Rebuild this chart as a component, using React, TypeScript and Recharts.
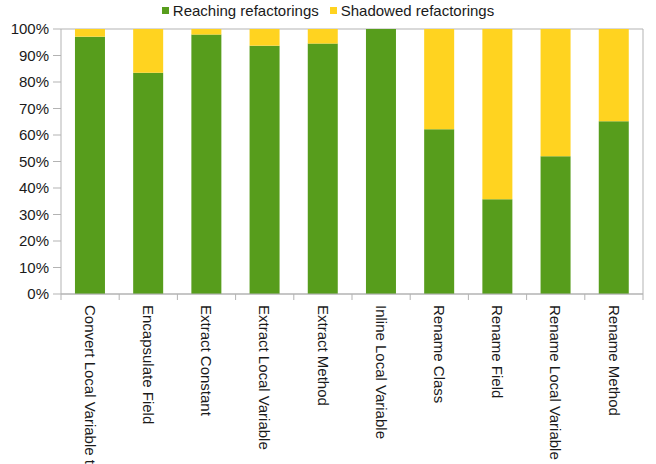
import React from "react";
import { BarChart, Bar, XAxis, YAxis, CartesianGrid, Legend } from "recharts";

// Refactoring kinds along the category axis
const categories = [
  "Convert Local Variable to Field",
  "Encapsulate Field",
  "Extract Constant",
  "Extract Local Variable",
  "Extract Method",
  "Inline Local Variable",
  "Rename Class",
  "Rename Field",
  "Rename Local Variable",
  "Rename Method",
];

// Share of refactorings (percent) per kind
const reaching = [97.1, 83.5, 97.9, 93.7, 94.5, 100, 62.2, 35.8, 52.0, 65.2];
const shadowed = [2.9, 16.5, 2.1, 6.3, 5.5, 0, 37.8, 64.2, 48.0, 34.8];

const yTicks = [0, 10, 20, 30, 40, 50, 60, 70, 80, 90, 100];

const data = categories.map((name, i) => ({
  name,
  reaching: reaching[i],
  shadowed: shadowed[i],
}));

const GREEN = "#579d1c";
const YELLOW = "#ffd320";
const GRID = "#b3b3b3";
const TEXT = "#1a1a1a";
const FONT = "'Liberation Sans', Arial, sans-serif";

// Category label rotated to read downward, with tick marks on the band edges
const CategoryTick = (props: any) => {
  const { x, y, payload, index, visibleTicksCount } = props;
  const half = payload?.offset ?? 0;
  const isLast = index === visibleTicksCount - 1;
  return (
    <g>
      <line x1={x - half} x2={x - half} y1={y} y2={y + 6} stroke={GRID} />
      {isLast && (
        <line x1={x + half} x2={x + half} y1={y} y2={y + 6} stroke={GRID} />
      )}
      <text
        x={x}
        y={y + 11}
        dy="0.35em"
        transform={`rotate(90, ${x}, ${y + 11})`}
        textAnchor="start"
        fontFamily={FONT}
        fontSize={15}
        fill={TEXT}
      >
        {payload.value}
      </text>
    </g>
  );
};

const LegendContent = (props: any) => {
  const { payload } = props;
  return (
    <div
      style={{
        height: 29,
        display: "flex",
        justifyContent: "center",
        alignItems: "flex-start",
        fontFamily: FONT,
        fontSize: 15,
        color: TEXT,
      }}
    >
      {(payload || []).map((entry: any, i: number) => (
        <div
          key={entry.value}
          style={{
            display: "flex",
            alignItems: "center",
            marginLeft: i === 0 ? 0 : 11,
            paddingTop: 2,
            lineHeight: "17px",
          }}
        >
          <span
            style={{
              display: "inline-block",
              width: 7,
              height: 7,
              background: entry.color,
              marginRight: 4,
            }}
          />
          <span>{entry.value}</span>
        </div>
      ))}
    </div>
  );
};

export default function App() {
  return (
    <div style={{ position: "absolute", left: 0, top: 0, background: "#fff" }}>
      <BarChart
        width={656}
        height={464}
        data={data}
        margin={{ top: 0, right: 0, bottom: 0, left: 0 }}
        barCategoryGap="24%"
      >
        <CartesianGrid horizontal vertical={false} stroke={GRID} strokeDasharray="" />
        <Legend
          verticalAlign="top"
          align="center"
          content={<LegendContent />}
          wrapperStyle={{ top: 0, left: 0, width: 656 }}
        />
        <XAxis
          dataKey="name"
          interval={0}
          height={170}
          tickSize={0}
          tickMargin={0}
          tickLine={false}
          axisLine={{ stroke: GRID }}
          tick={<CategoryTick />}
        />
        <YAxis
          yAxisId="left"
          width={61}
          domain={[0, 100]}
          ticks={yTicks}
          interval={0}
          tickFormatter={(v: number) => `${v}%`}
          tickSize={8}
          tickMargin={4}
          tickLine={{ stroke: GRID }}
          axisLine={{ stroke: GRID }}
          tick={{ fontFamily: FONT, fontSize: 15, fill: TEXT }}
        />
        <YAxis
          yAxisId="frame"
          orientation="right"
          width={13}
          domain={[0, 100]}
          tick={false}
          tickLine={false}
          axisLine={{ stroke: GRID }}
        />
        <Bar
          yAxisId="left"
          dataKey="reaching"
          name="Reaching refactorings"
          stackId="share"
          fill={GREEN}
          isAnimationActive={false}
        />
        <Bar
          yAxisId="left"
          dataKey="shadowed"
          name="Shadowed refactorings"
          stackId="share"
          fill={YELLOW}
          isAnimationActive={false}
        />
      </BarChart>
    </div>
  );
}
